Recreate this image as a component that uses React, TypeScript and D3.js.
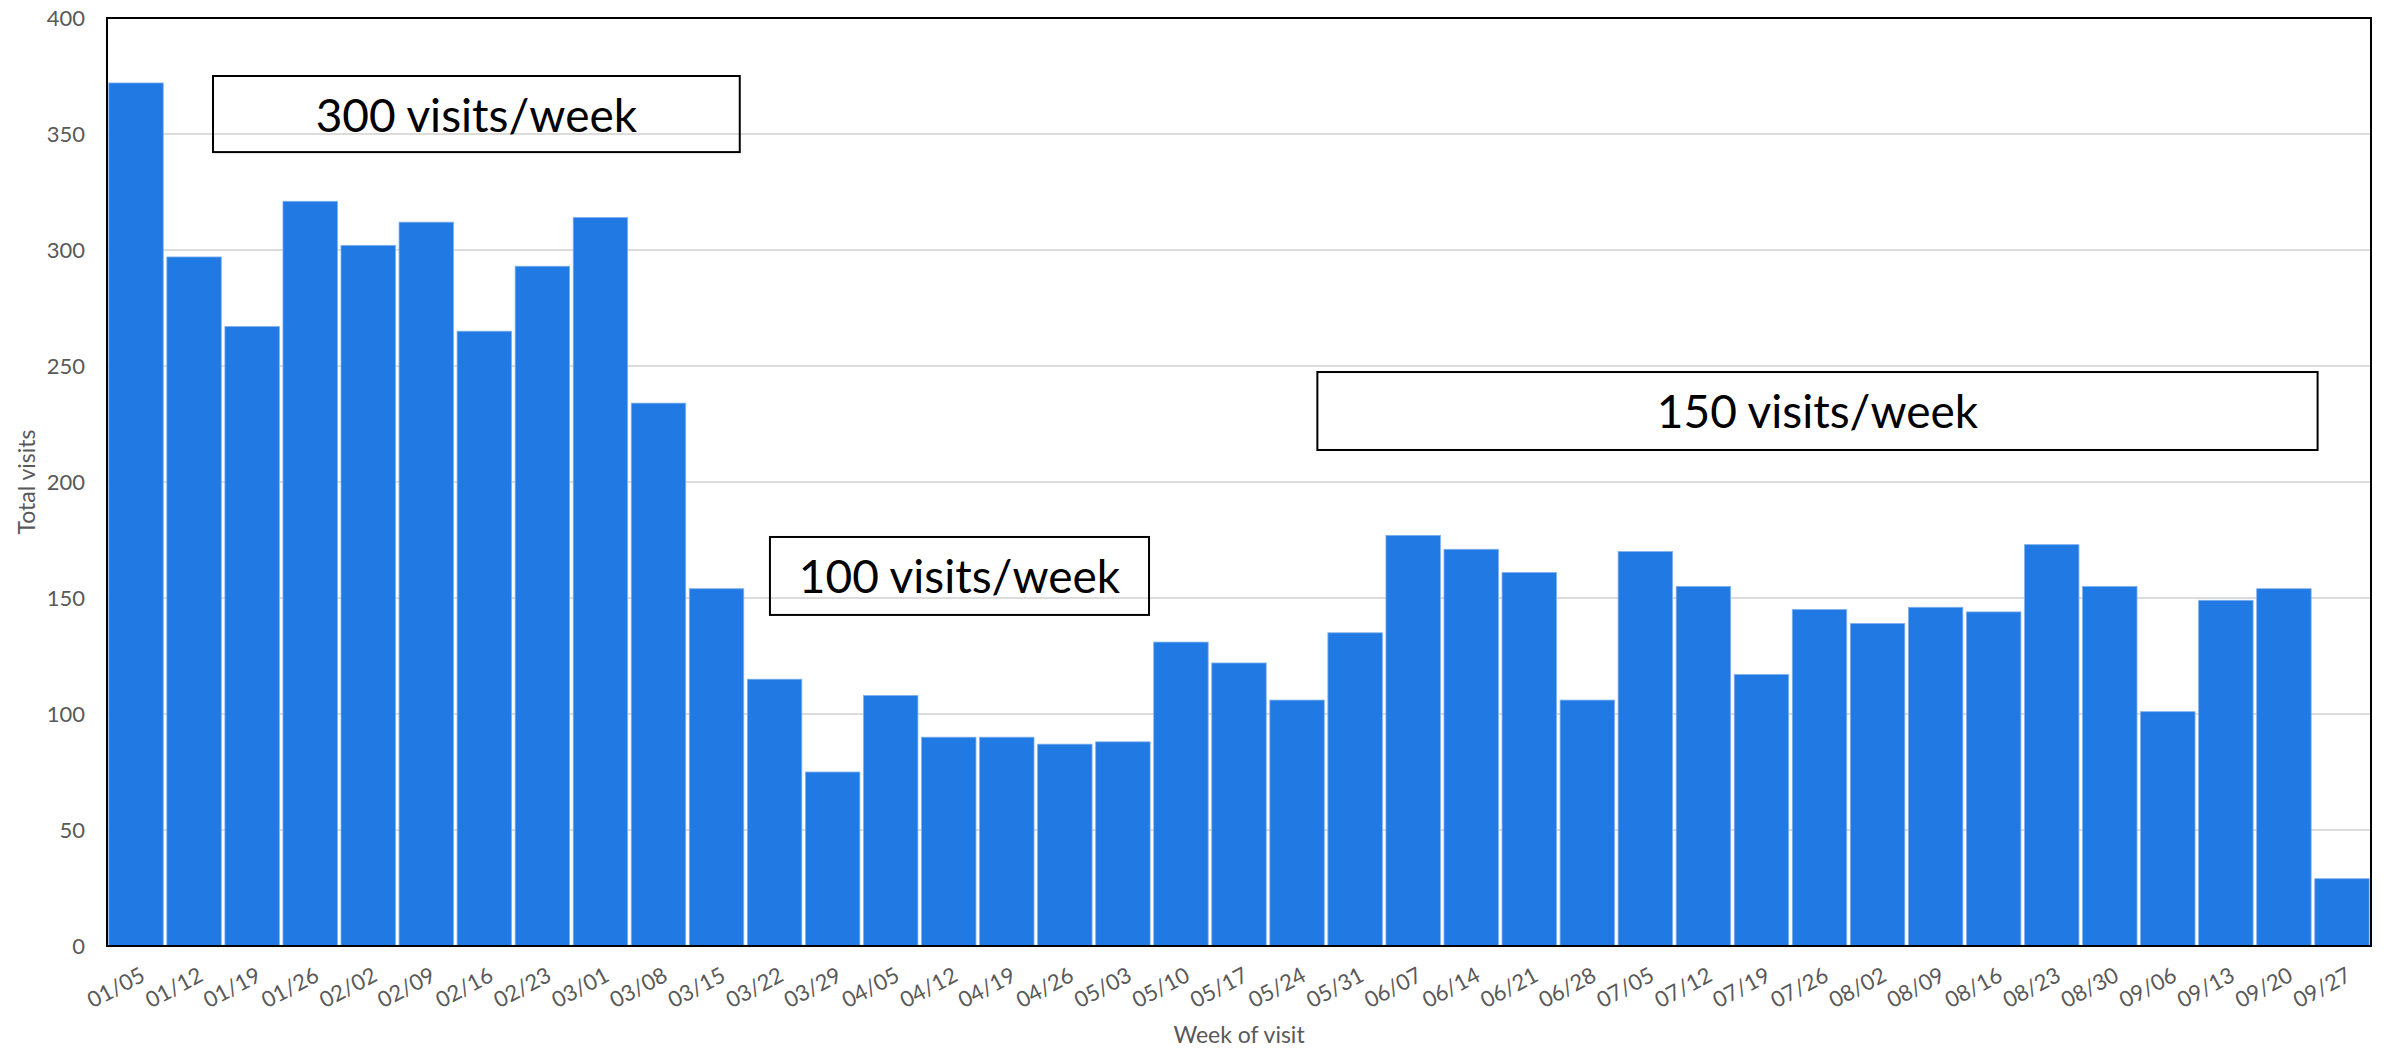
import React from "react";
import * as d3 from "d3";

const weeks: string[] = [
  "01/05", "01/12", "01/19", "01/26", "02/02", "02/09", "02/16", "02/23", "03/01", "03/08",
  "03/15", "03/22", "03/29", "04/05", "04/12", "04/19", "04/26", "05/03", "05/10", "05/17",
  "05/24", "05/31", "06/07", "06/14", "06/21", "06/28", "07/05", "07/12", "07/19", "07/26",
  "08/02", "08/09", "08/16", "08/23", "08/30", "09/06", "09/13", "09/20", "09/27",
];
const visits: number[] = [
  372, 297, 267, 321, 302, 312, 265, 293, 314, 234,
  154, 115, 75, 108, 90, 90, 87, 88, 131, 122,
  106, 135, 177, 171, 161, 106, 170, 155, 117, 145,
  139, 146, 144, 173, 155, 101, 149, 154, 29,
];
const yTicks: number[] = [0, 50, 100, 150, 200, 250, 300, 350, 400];

const noteLabels: string[] = ["300 visits/week", "100 visits/week", "150 visits/week"];
const noteX0: number[] = [1.826, 11.42, 20.85];
const noteX1: number[] = [10.9, 17.95, 38.08];
const noteTop: number[] = [375, 176.3, 247.4];
const noteBottom: number[] = [342.2, 142.7, 213.8];

const W = 2390;
const H = 1050;
const left = 107;
const right = 2371;
const top = 18;
const bottom = 946;
const FONT = "Lato, 'Open Sans', sans-serif";

export default function App() {
  const x = d3.scaleBand<string>().domain(weeks).range([left, right]).padding(0);
  const xi = d3.scaleLinear().domain([0, weeks.length]).range([left, right]);
  const y = d3.scaleLinear().domain([0, 400]).range([bottom, top]);
  const bw = x.bandwidth();

  return (
    <div style={{ position: "absolute", left: 0, top: 0 }}>
      <svg width={W} height={H} style={{ display: "block", background: "#fff" }}>
        {yTicks.filter((t) => t > 0 && t < 400).map((t) => (
          <line key={"g" + t} x1={left} x2={right} y1={y(t)} y2={y(t)} stroke="#dcdcdc" strokeWidth={2} />
        ))}
        {weeks.map((w, i) => (
          <rect
            key={w}
            x={(x(w) as number) + 1.8}
            y={y(visits[i])}
            width={bw - 3.6}
            height={bottom - y(visits[i])}
            fill="#2179E3"
            stroke="#7fb0ef"
            strokeWidth={0.8}
          />
        ))}
        <rect x={left} y={top} width={right - left} height={bottom - top} fill="none" stroke="#000" strokeWidth={2} />
        {yTicks.map((t) => (
          <text key={"yt" + t} x={85} y={y(t)} dy="0.36em" textAnchor="end" fontFamily={FONT} fontSize={22} fill="#595959">
            {t}
          </text>
        ))}
        {weeks.map((w) => {
          const cx = (x(w) as number) + bw / 2 + 3;
          return (
            <text
              key={"xt" + w}
              transform={`translate(${cx},${966}) rotate(-28)`}
              dy="0.72em"
              textAnchor="end"
              fontFamily={FONT}
              fontSize={22}
              fill="#595959"
            >
              {w}
            </text>
          );
        })}
        <text x={(left + right) / 2} y={1043} textAnchor="middle" fontFamily={FONT} fontSize={23} fill="#595959">
          Week of visit
        </text>
        <text
          transform={`translate(35,${(top + bottom) / 2}) rotate(-90)`}
          textAnchor="middle"
          fontFamily={FONT}
          fontSize={23}
          fill="#595959"
        >
          Total visits
        </text>
        {noteLabels.map((lab, i) => {
          const x0 = xi(noteX0[i]);
          const x1 = xi(noteX1[i]);
          const y0 = y(noteTop[i]);
          const y1 = y(noteBottom[i]);
          return (
            <g key={lab}>
              <rect x={x0} y={y0} width={x1 - x0} height={y1 - y0} fill="none" stroke="#000" strokeWidth={2} />
              <text
                x={(x0 + x1) / 2}
                y={(y0 + y1) / 2}
                dy="0.38em"
                textAnchor="middle"
                fontFamily={FONT}
                fontSize={46}
                fill="#000"
              >
                {lab}
              </text>
            </g>
          );
        })}
      </svg>
    </div>
  );
}
